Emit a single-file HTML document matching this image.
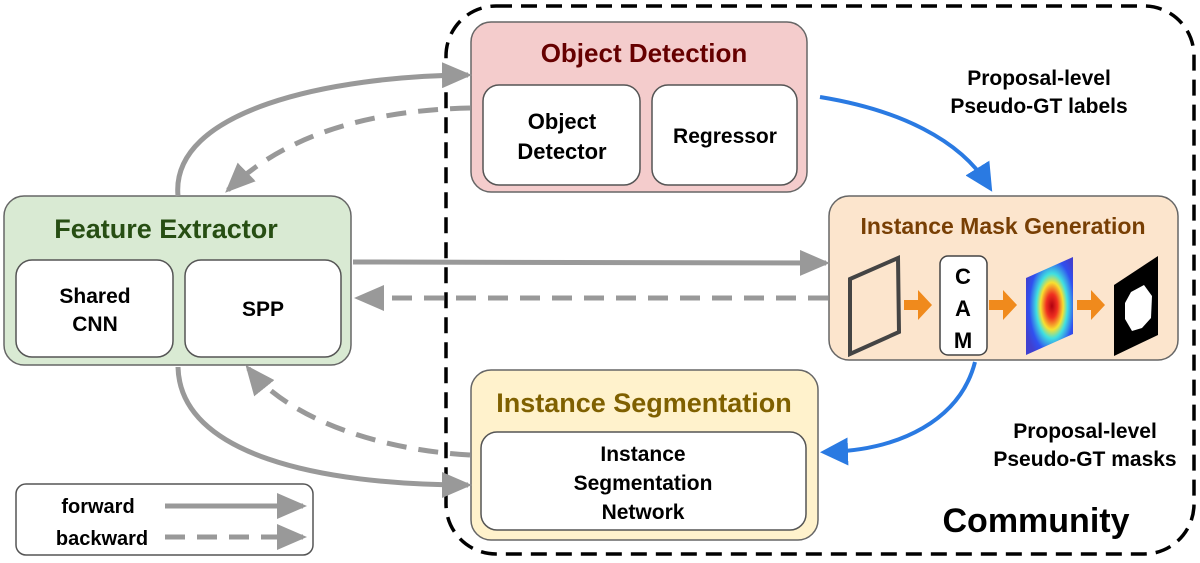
<!DOCTYPE html>
<html><head><style>body{margin:0;background:#fff}svg{display:block}text{font-family:"Liberation Sans",Arial,sans-serif;font-weight:bold}</style></head><body>
<svg width="1200" height="563" viewBox="0 0 1200 563" xmlns="http://www.w3.org/2000/svg">
<defs>
<marker id="ag" markerWidth="30" markerHeight="26" refX="26" refY="13" orient="auto" markerUnits="userSpaceOnUse" viewBox="0 0 30 26"><path d="M0,0 L30,13 L0,26 z" fill="#999"/></marker>
<marker id="ab" markerWidth="7" markerHeight="7" refX="5" refY="3.5" orient="auto" viewBox="0 0 7 7"><path d="M0,0 L7,3.5 L0,7 z" fill="#2a7ae2"/></marker>
<radialGradient id="hm" cx="0.55" cy="0.5" r="0.6"><stop offset="0" stop-color="#b00010"/><stop offset="0.2" stop-color="#f03020"/><stop offset="0.4" stop-color="#f8e030"/><stop offset="0.55" stop-color="#40e0e0"/><stop offset="0.8" stop-color="#3050f0"/><stop offset="1" stop-color="#4040d0"/></radialGradient>
</defs>
<rect x="446" y="6" width="748" height="548" rx="50" fill="none" stroke="#000" stroke-width="3.5" stroke-dasharray="16,9"/>
<!-- Object Detection -->
<rect x="471" y="22" width="336" height="170" rx="20" fill="#f4cccc" stroke="#666" stroke-width="1.5"/>
<text x="644" y="62" font-size="26" fill="#660000" text-anchor="middle">Object Detection</text>
<rect x="483" y="85" width="157" height="100" rx="16" fill="#fff" stroke="#555" stroke-width="1.5"/>
<text x="562" y="129" font-size="22" text-anchor="middle">Object</text>
<text x="562" y="159" font-size="22" text-anchor="middle">Detector</text>
<rect x="652" y="85" width="145" height="100" rx="16" fill="#fff" stroke="#555" stroke-width="1.5"/>
<text x="725" y="143" font-size="21" text-anchor="middle">Regressor</text>
<!-- Feature Extractor -->
<rect x="4" y="196" width="347" height="169" rx="20" fill="#d9ead3" stroke="#666" stroke-width="1.5"/>
<text x="166" y="238" font-size="27" fill="#274e13" text-anchor="middle">Feature Extractor</text>
<rect x="16" y="260" width="157" height="97" rx="16" fill="#fff" stroke="#555" stroke-width="1.5"/>
<text x="95" y="303" font-size="21" text-anchor="middle">Shared</text>
<text x="95" y="331" font-size="21" text-anchor="middle">CNN</text>
<rect x="185" y="260" width="156" height="97" rx="16" fill="#fff" stroke="#555" stroke-width="1.5"/>
<text x="263" y="316" font-size="21" text-anchor="middle">SPP</text>
<!-- Instance Mask Generation -->
<rect x="829" y="196" width="349" height="164" rx="20" fill="#fce5cd" stroke="#666" stroke-width="1.5"/>
<text x="1003" y="234" font-size="23" fill="#783f04" text-anchor="middle">Instance Mask Generation</text>
<path d="M850,279 L898,258 L899,332 L850,354 Z" fill="none" stroke="#444" stroke-width="4"/>
<rect x="940" y="256" width="47" height="99" rx="8" fill="#fff" stroke="#444" stroke-width="1.5"/>
<text x="963" y="284" font-size="22" text-anchor="middle">C</text>
<text x="963" y="316" font-size="22" text-anchor="middle">A</text>
<text x="963" y="348" font-size="22" text-anchor="middle">M</text>
<path d="M1026,278 L1073,257 L1073,334 L1026,355 Z" fill="url(#hm)"/>
<path d="M1114,285 L1158,256 L1158,335 L1114,356 Z" fill="#000"/>
<path d="M1131,292 L1144,285 L1152,296 L1151,318 L1142,328 L1132,331 L1125,319 L1125,303 Z" fill="#fff"/>
<g fill="#f08a1c"><path d="M904,300 h14 v-10 l14,15 l-14,15 v-10 h-14 z"/><path d="M989,300 h14 v-10 l14,15 l-14,15 v-10 h-14 z"/><path d="M1077,300 h14 v-10 l14,15 l-14,15 v-10 h-14 z"/></g>
<!-- Instance Segmentation -->
<rect x="471" y="370" width="347" height="170" rx="20" fill="#fff2cc" stroke="#666" stroke-width="1.5"/>
<text x="644" y="412" font-size="27" fill="#7f6000" text-anchor="middle">Instance Segmentation</text>
<rect x="481" y="432" width="325" height="98" rx="16" fill="#fff" stroke="#555" stroke-width="1.5"/>
<text x="643" y="461" font-size="21" text-anchor="middle">Instance</text>
<text x="643" y="490" font-size="21" text-anchor="middle">Segmentation</text>
<text x="643" y="519" font-size="21" text-anchor="middle">Network</text>
<!-- labels -->
<text x="1039" y="85" font-size="21" text-anchor="middle">Proposal-level</text>
<text x="1039" y="113" font-size="21" text-anchor="middle">Pseudo-GT labels</text>
<text x="1085" y="438" font-size="21" text-anchor="middle">Proposal-level</text>
<text x="1085" y="466" font-size="21" text-anchor="middle">Pseudo-GT masks</text>
<text x="1036" y="532" font-size="34" text-anchor="middle">Community</text>
<!-- gray arrows -->
<g fill="none" stroke="#999" stroke-width="5">
<path d="M178,196 C170,110 330,76 468,75" marker-end="url(#ag)"/>
<path d="M470,108 C380,110 290,130 228,190" stroke-dasharray="20,12" marker-end="url(#ag)"/>
<path d="M353,262 L826,263" marker-end="url(#ag)"/>
<path d="M828,298 L358,298" stroke-dasharray="20,12" marker-end="url(#ag)"/>
<path d="M178,367 C180,455 320,485 468,485" marker-end="url(#ag)"/>
<path d="M470,455 C380,450 290,420 248,368" stroke-dasharray="20,12" marker-end="url(#ag)"/>
<path d="M165,506 L303,506" marker-end="url(#ag)"/>
<path d="M165,537 L303,537" stroke-dasharray="20,12" marker-end="url(#ag)"/>
</g>
<g fill="none" stroke="#2a7ae2" stroke-width="4">
<path d="M820,97 C900,110 960,140 988,185" marker-end="url(#ab)"/>
<path d="M975,362 C960,420 900,450 828,452" marker-end="url(#ab)"/>
</g>
<rect x="16" y="484" width="297" height="71" rx="10" fill="none" stroke="#555" stroke-width="1.5"/>
<text x="98" y="513" font-size="20" text-anchor="middle">forward</text>
<text x="102" y="545" font-size="20" text-anchor="middle">backward</text>
</svg>
</body></html>
